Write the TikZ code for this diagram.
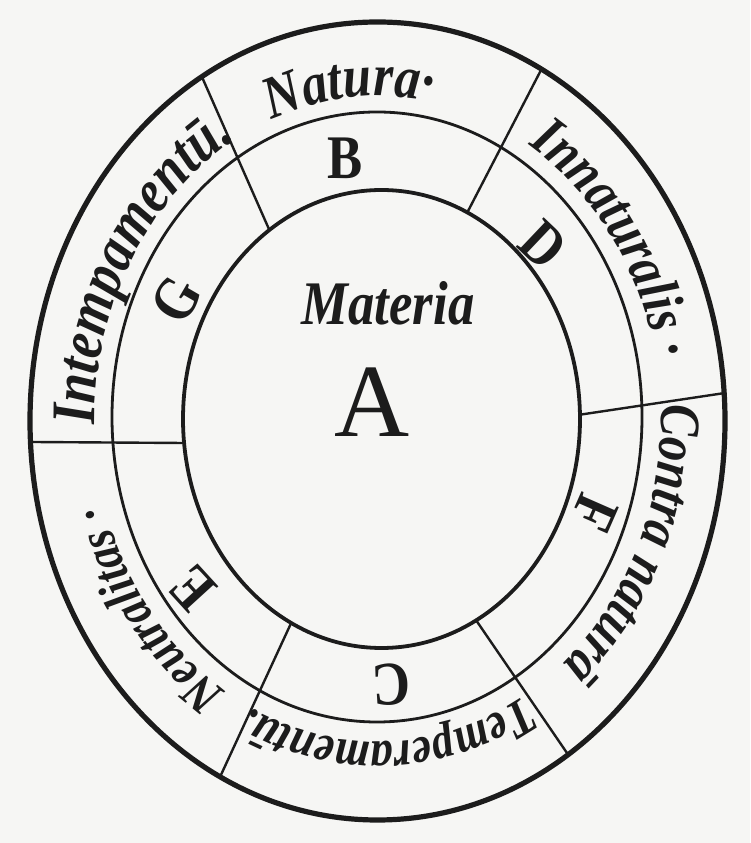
\documentclass[tikz,border=0pt]{standalone}
\usepackage{fontspec}
\setmainfont{Liberation Serif}
\newfontfamily\labfont[FakeStretch=0.85]{Liberation Serif}
\usetikzlibrary{decorations.text,intersections,calc}
\definecolor{ink}{RGB}{28,28,28}
\definecolor{paper}{RGB}{246,246,244}
\begin{document}
\begin{tikzpicture}[x=1pt,y=1pt,line cap=round,
  outerring/.style={draw=ink,line width=5.2pt},
  midring/.style={draw=ink,line width=2.8pt},
  innerring/.style={draw=ink,line width=3.8pt},
  divider/.style={draw=ink,line width=2.4pt},
  ringletter/.style={text=ink,inner sep=0pt,font=\labfont\bfseries\fontsize{62}{62}\selectfont},
  centerlabel/.style={text=ink,inner sep=0pt,anchor=base}]
\fill[paper] (0,0) rectangle (750,843);
\useasboundingbox (0,0) rectangle (750,843);

% centres of the three rings and of the label baseline
\coordinate (CO) at (377.5,422);
\coordinate (CM) at (377,426);
\coordinate (CI) at (381.5,424);
\coordinate (CB) at (378,424);

\path[name path=outerE] (CO) ellipse [x radius=347.5pt,y radius=399pt];
\path[name path=innerE] (CI) ellipse [x radius=198.5pt,y radius=229pt];

% measured points of the six dividers (outer / inner)
\coordinate (tlO) at (202,766); \coordinate (tlI) at (268,616);
\coordinate (trO) at (540,771); \coordinate (trI) at (467,630);
\coordinate (rrO) at (725,450); \coordinate (rrI) at (578,428);
\coordinate (brO) at (567,90);  \coordinate (brI) at (478,220);
\coordinate (blO) at (220,66);  \coordinate (blI) at (287,211);
\coordinate (llO) at (30,401);  \coordinate (llI) at (183,400);

\foreach \d in {tl,tr,rr,br,bl,ll}{
  \path[name path=seg\d] ($(\d I)!-0.15!(\d O)$) -- ($(\d O)!-0.15!(\d I)$);
  \path[name intersections={of=outerE and seg\d,by={\d o}}];
  \path[name intersections={of=innerE and seg\d,by={\d i}}];
  \draw[divider] (\d i) -- (\d o);
}

% rings
\draw[outerring] (CO) ellipse [x radius=347.5pt,y radius=399pt];
\draw[midring] (CM) ellipse [x radius=265pt,y radius=305pt];
\draw[innerring] (CI) ellipse [x radius=198.5pt,y radius=229pt];

% labels of the outer ring
\path[decorate,decoration={text along path,text align=center,
  text={|\color{ink}\labfont\bfseries\itshape\fontsize{60}{60}\selectfont|Natura·}}]
  ($(CB)+(135.4:283pt and 323pt)$) arc[start angle=135.4,end angle=55.4,x radius=283pt,y radius=323pt];
\path[decorate,decoration={text along path,text align=center,
  text={|\color{ink}\labfont\bfseries\itshape\fontsize{58}{58}\selectfont|Innaturalis ·}}]
  ($(CB)+(75.3:283pt and 323pt)$) arc[start angle=75.3,end angle=-4.7,x radius=283pt,y radius=323pt];
\path[decorate,decoration={text along path,text align=center,
  text={|\color{ink}\labfont\bfseries\itshape\fontsize{57}{57}\selectfont|Contra naturā}}]
  ($(CB)+(16:283pt and 323pt)$) arc[start angle=16,end angle=-64,x radius=283pt,y radius=323pt];
\path[decorate,decoration={text along path,text align=center,
  text={|\color{ink}\labfont\bfseries\itshape\fontsize{52}{52}\selectfont|Temperamentū.}}]
  ($(CB)+(-48:283pt and 323pt)$) arc[start angle=-48,end angle=-128,x radius=283pt,y radius=323pt];
\path[decorate,decoration={text along path,text align=center,
  text={|\color{ink}\labfont\bfseries\itshape\fontsize{52}{52}\selectfont|Neutralitas ·}}]
  ($(CB)+(-102.5:283pt and 323pt)$) arc[start angle=-102.5,end angle=-182.5,x radius=283pt,y radius=323pt];
\path[decorate,decoration={text along path,text align=center,
  text={|\color{ink}\labfont\bfseries\itshape\fontsize{62}{62}\selectfont|Intempamentū.}}]
  ($(CB)+(190:283pt and 323pt)$) arc[start angle=190,end angle=110,x radius=283pt,y radius=323pt];

% letters of the middle ring
\node[ringletter,rotate=0]      (lB) at (345,685) {B};
\node[ringletter,rotate=-43.5]  (lD) at (543,598) {D};
\node[ringletter,rotate=-113.7] (lF) at (595,330) {F};
\node[ringletter,rotate=-177.4] (lC) at (391,158) {C};
\node[ringletter,rotate=132.4]  (lE) at (193,255) {E};
\node[ringletter,rotate=59.8]   (lG) at (176,543) {G};

% centre
\node[centerlabel,font=\labfont\bfseries\itshape\fontsize{62}{62}\selectfont] (materia) at (388,518) {Materia};
\node[centerlabel,font=\rmfamily\fontsize{104}{104}\selectfont] (A) at (372,406) {A};
\end{tikzpicture}
\end{document}
